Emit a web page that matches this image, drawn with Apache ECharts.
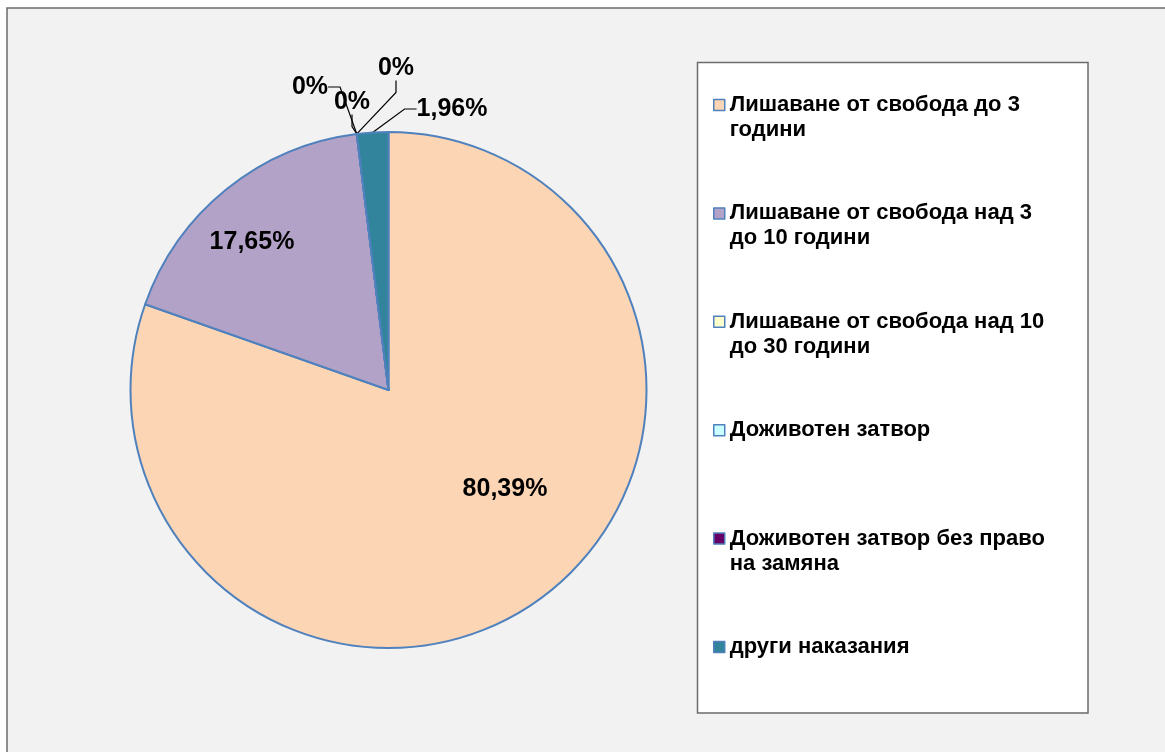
<!DOCTYPE html>
<html>
<head>
<meta charset="utf-8">
<script src="https://cdn.jsdelivr.net/npm/echarts@6/dist/echarts.min.js"></script>
<style>
html,body{margin:0;padding:0;background:#ffffff;}
#main{width:1165px;height:752px;}
</style>
</head>
<body>
<div id="main"></div>
<script>
// Categories (legend names)
var categories = [
  'Лишаване от свобода до 3 години',
  'Лишаване от свобода над 3 до 10 години',
  'Лишаване от свобода над 10 до 30 години',
  'Доживотен затвор',
  'Доживотен затвор без право на замяна',
  'други наказания'
];
// Legend text as wrapped in the reference (first line, second line)
var legendLine1 = [
  'Лишаване от свобода до 3',
  'Лишаване от свобода над 3',
  'Лишаване от свобода над 10',
  'Доживотен затвор',
  'Доживотен затвор без право',
  'други наказания'
];
var legendLine2 = ['години', 'до 10 години', 'до 30 години', ' ', 'на замяна', ' '];
// Counts (41/51 = 80,39%, 9/51 = 17,65%, 1/51 = 1,96%)
var values = [41, 9, 0, 0, 0, 1];
var colors = ['#FCD5B5', '#B3A2C7', '#FFFFCC', '#CCFFFF', '#660066', '#31849B'];

// label anchor positions (text placement only)
var labelPos = [
  [505, 489],
  [252, 242],
  [310, 87],
  [352, 102],
  [396, 68],
  [452, 109]
];

var chart = echarts.init(document.getElementById('main'), null, {renderer: 'canvas'});

var data = categories.map(function (c, i) {
  return {
    name: c,
    value: values[i],
    itemStyle: {color: colors[i]},
    label: {position: i < 2 ? 'inside' : 'outside'},
    labelLine: {show: i >= 2}
  };
});

var option = {
  backgroundColor: '#ffffff',
  animation: false,
  graphic: [
    {type: 'rect', z: -10, silent: true,
     shape: {x: 7, y: 8, width: 1200, height: 800},
     style: {fill: '#F2F2F2', stroke: '#6b6b6b', lineWidth: 1.5}},
    {type: 'rect', z: -5, silent: true,
     shape: {x: 697.5, y: 62.5, width: 390.5, height: 650.5},
     style: {fill: '#ffffff', stroke: '#6b6b6b', lineWidth: 1.5}}
  ],
  legend: {
    orient: 'vertical',
    left: 713,
    top: 67.5,
    padding: 0,
    itemWidth: 11,
    itemHeight: 11,
    itemGap: 33.4,
    icon: 'rect',
    selectedMode: false,
    data: categories,
    itemStyle: {borderColor: '#4F81BD', borderWidth: 1.5},
    formatter: function (name) {
      var i = categories.indexOf(name);
      return ' \n' + legendLine1[i] + '\n' + legendLine2[i];
    },
    textStyle: {
      fontFamily: 'Liberation Sans, Arial, sans-serif',
      fontSize: 22,
      fontWeight: 'bold',
      color: '#000000',
      lineHeight: 25
    }
  },
  series: [{
    type: 'pie',
    center: [388.5, 390],
    radius: 258,
    startAngle: 90,
    clockwise: true,
    avoidLabelOverlap: false,
    itemStyle: {borderColor: '#4F81BD', borderWidth: 2},
    emphasis: {disabled: true},
    label: {
      show: true,
      fontFamily: 'Liberation Sans, Arial, sans-serif',
      fontSize: 25,
      fontWeight: 'bold',
      color: '#000000',
      formatter: function (p) {
        return String(p.percent).replace('.', ',') + '%';
      }
    },
    labelLine: {
      show: true,
      length: 15,
      length2: 12,
      lineStyle: {color: '#000000', width: 1.2}
    },
    labelLayout: function (p) {
      var pos = labelPos[p.dataIndex];
      return {x: pos[0], y: pos[1], align: 'center', verticalAlign: 'middle'};
    },
    data: data
  }]
};
chart.setOption(option);
</script>
</body>
</html>
